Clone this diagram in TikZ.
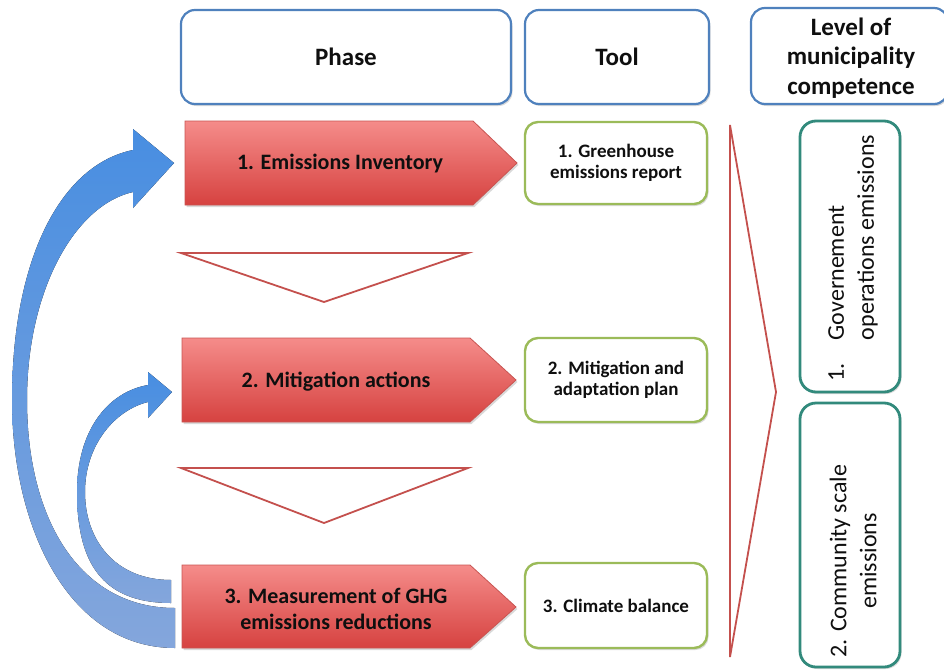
\documentclass[tikz,border=0pt]{standalone}
\usepackage{fontspec}
\setmainfont{Carlito}
\usetikzlibrary{shadows}
\definecolor{hdrblue}{RGB}{79,129,189}
\definecolor{toolgreen}{RGB}{155,187,89}
\definecolor{tealc}{RGB}{50,138,124}
\definecolor{trired}{RGB}{196,80,77}
\definecolor{penttop}{RGB}{245,140,138}
\definecolor{pentbot}{RGB}{214,66,64}
\definecolor{pentline}{RGB}{200,85,82}
\definecolor{arrtop}{RGB}{72,142,225}
\definecolor{arrbot}{RGB}{132,166,220}
\definecolor{txt}{RGB}{15,15,15}
\begin{document}
\begin{tikzpicture}[x=1pt,y=-1pt,
  shad/.style={drop shadow={shadow xshift=1.5pt,shadow yshift=-2pt,opacity=0.3}},
  hdrbox/.style={draw=hdrblue, line width=2.2pt, rounded corners=14pt, fill=white, shad,
    font=\fontsize{25}{29}\selectfont\bfseries, text=txt, align=center, inner sep=0pt},
  toolbox/.style={draw=toolgreen, line width=2.4pt, rounded corners=13pt, fill=white, shad,
    font=\fontsize{19}{21.5}\selectfont\bfseries, text=txt, align=center, inner sep=0pt},
  tealbox/.style={draw=tealc, line width=2.8pt, rounded corners=16pt, fill=white, shad, inner sep=0pt},
  pent/.style={draw=pentline, line width=0.8pt, top color=penttop, bottom color=pentbot, shad},
  ptext/.style={font=\fontsize{22}{26}\selectfont\bfseries, text=txt, align=center},
  rtext/.style={font=\fontsize{24}{30}\selectfont, text=txt, rotate=90, inner sep=0pt},
  tri/.style={draw=trired, line width=1.8pt, fill=white, line join=miter},
  blarrow/.style={top color=arrtop, bottom color=arrbot, draw=none}
]
\useasboundingbox (0,0) rectangle (944,669);
\clip (0,0) rectangle (944,669);

% header boxes
\node[hdrbox, minimum width=330pt, minimum height=94pt] (phase) at (346,57) {Phase};
\node[hdrbox, minimum width=184pt, minimum height=94pt] (tool) at (617,57) {Tool};
\node[hdrbox, minimum width=197pt, minimum height=96pt] (level) at (849.5,56) {};
\node[font=\fontsize{25}{29.5}\selectfont\bfseries, text=txt, align=center] (leveltxt) at (851,58) {Level of\\municipality\\competence};

% blue curved arrows
\fill[blarrow] (175,648) .. controls (70,648) and (12,530) .. (12,400)
  .. controls (12,260) and (60,165) .. (133,150) -- (133,129) -- (174,163) -- (133,208) -- (133,192)
  .. controls (75,205) and (27,290) .. (27,400)
  .. controls (27,520) and (80,608) .. (175,608) -- cycle;
\fill[blarrow] (171,603) .. controls (100,603) and (77,560) .. (77,492)
  .. controls (77,430) and (108,392) .. (148,385) -- (148,372) -- (172,392) -- (148,418) -- (148,402)
  .. controls (115,410) and (85,445) .. (85,492)
  .. controls (85,540) and (115,580) .. (171,580) -- cycle;

% phase pentagons
\path[pent] (185,121) -- (473,121) -- (517,163) -- (473,205) -- (185,205) -- cycle;
\node[ptext] (p1) at (340,164) {1. Emissions Inventory};
\path[pent] (182,338) -- (470,338) -- (516,380) -- (470,422) -- (182,422) -- cycle;
\node[ptext] (p2) at (336,382) {2. Mitigation actions};
\path[pent] (182,565) -- (470,565) -- (516,607) -- (470,648) -- (182,648) -- cycle;
\node[ptext] (p3) at (336,609) {3. Measurement of GHG\\emissions reductions};

% down triangles
\draw[tri] (181,253) -- (468,253) -- (324,302) -- cycle;
\draw[tri] (181,468) -- (468,468) -- (324,523) -- cycle;

% tool boxes
\node[toolbox, minimum width=182pt, minimum height=82pt] (t1) at (616,163) {1. Greenhouse\\emissions report};
\node[toolbox, minimum width=182pt, minimum height=84pt] (t2) at (616,380) {2. Mitigation and\\adaptation plan};
\node[toolbox, minimum width=182pt, minimum height=85pt] (t3) at (616,605.5) {3. Climate balance};

% right triangle
\draw[tri] (730,125) -- (776,392) -- (730,657) -- cycle;

% teal boxes
\node[tealbox, minimum width=100pt, minimum height=271pt] (c1) at (850,256.5) {};
\node[rtext, align=left] (c1t) at (853,258) {\makebox[41pt][l]{1.}Governement\\\hspace*{41pt}operations emissions};
\node[tealbox, minimum width=100pt, minimum height=264pt] (c2) at (850,535) {};
\node[rtext, align=center] (c2t) at (853,561) {2. Community scale\\emissions};
\end{tikzpicture}
\end{document}
